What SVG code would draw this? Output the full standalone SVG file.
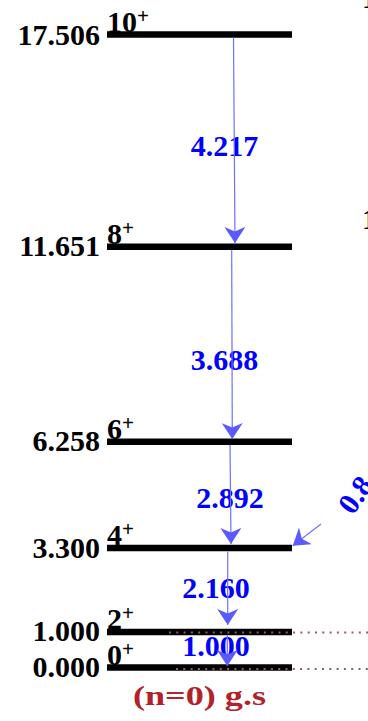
<svg xmlns="http://www.w3.org/2000/svg" width="368" height="721" viewBox="0 0 368 721">
<style>
.bar{stroke:#000;stroke-width:6.5;fill:none}
.dots{stroke:#9a5a5a;stroke-width:2;stroke-dasharray:2 5.3;fill:none}
.en{font-family:"Liberation Serif",serif;font-weight:bold;font-size:30px;fill:#000;text-anchor:end}
.sp{font-family:"Liberation Serif",serif;font-weight:bold;font-size:30px;fill:#000}
.sup{font-size:21px}
.tr{font-family:"Liberation Serif",serif;font-weight:bold;font-size:30px;fill:#0000ff;text-anchor:middle}
.ln{stroke:#7070ff;stroke-width:1.2;fill:none;marker-end:url(#ah)}
</style>
<defs>
<marker id="ah" viewBox="0 0 16 21" refX="16" refY="10.5" markerWidth="16" markerHeight="21" markerUnits="userSpaceOnUse" orient="auto">
<path d="M0,0 L16,10.5 L0,21 L4.5,10.5 Z" fill="#5a5aff"/>
</marker>
</defs>
<g id="level-10">
<line class="bar" x1="107" y1="34.5" x2="292" y2="34.5"/>
<text class="en" x="100" y="45">17.506</text>
<text class="sp" x="107" y="31.5">10<tspan class="sup" dy="-9">+</tspan></text>
</g>
<g id="level-8">
<line class="bar" x1="107" y1="246.7" x2="292" y2="246.7"/>
<text class="en" x="100" y="256">11.651</text>
<text class="sp" x="107" y="243.7">8<tspan class="sup" dy="-9">+</tspan></text>
</g>
<g id="level-6">
<line class="bar" x1="107" y1="441.7" x2="292" y2="441.7"/>
<text class="en" x="100" y="451">6.258</text>
<text class="sp" x="107" y="438.7">6<tspan class="sup" dy="-9">+</tspan></text>
</g>
<g id="level-4">
<line class="bar" x1="107" y1="548" x2="292" y2="548"/>
<text class="en" x="100" y="557.5">3.300</text>
<text class="sp" x="107" y="545">4<tspan class="sup" dy="-9">+</tspan></text>
</g>
<g id="level-2">
<line class="bar" x1="107" y1="632" x2="292" y2="632"/>
<line class="dots" x1="169" y1="632.5" x2="368" y2="632.5"/>
<text class="en" x="100" y="641">1.000</text>
<text class="sp" x="107" y="629">2<tspan class="sup" dy="-9">+</tspan></text>
</g>
<g id="level-0">
<line class="bar" x1="107" y1="667.5" x2="292" y2="667.5"/>
<line class="dots" x1="176" y1="669" x2="368" y2="669"/>
<text class="en" x="100" y="676.7">0.000</text>
<text class="sp" x="107" y="664.5">0<tspan class="sup" dy="-9">+</tspan></text>
</g>
<g id="band-label">
<text x="133" y="705" font-family="Liberation Serif, serif" font-weight="bold" font-size="27" fill="#b22229" textLength="133" lengthAdjust="spacingAndGlyphs">(n=0) g.s</text>
</g>
<g id="edge-fragments">
<text class="sp" x="362" y="8">1</text>
<text class="sp" x="362" y="228.5">1</text>
</g>
<g id="transition-labels">
<text class="tr" x="224.5" y="156">4.217</text>
<text class="tr" x="224.5" y="370">3.688</text>
<text class="tr" x="230" y="508">2.892</text>
<text class="tr" x="216" y="598">2.160</text>
<text class="tr" x="216" y="656">1.000</text>
<text font-family="Liberation Serif, serif" font-weight="bold" font-size="30" fill="#0000ff" transform="translate(353,516) rotate(-55)">0.8</text>
</g>
<g id="connectors">
<path class="ln" d="M233.5,37.5 L235,243"/>
<path class="ln" d="M231.7,250 L232.3,439"/>
<path class="ln" d="M230,445 L231,544"/>
<path class="ln" d="M227.7,551.5 L227.7,625"/>
<path class="ln" d="M227.3,635 L227.3,666"/>
<path class="ln" d="M321,524 L292.7,545.7"/>
</g>
</svg>
